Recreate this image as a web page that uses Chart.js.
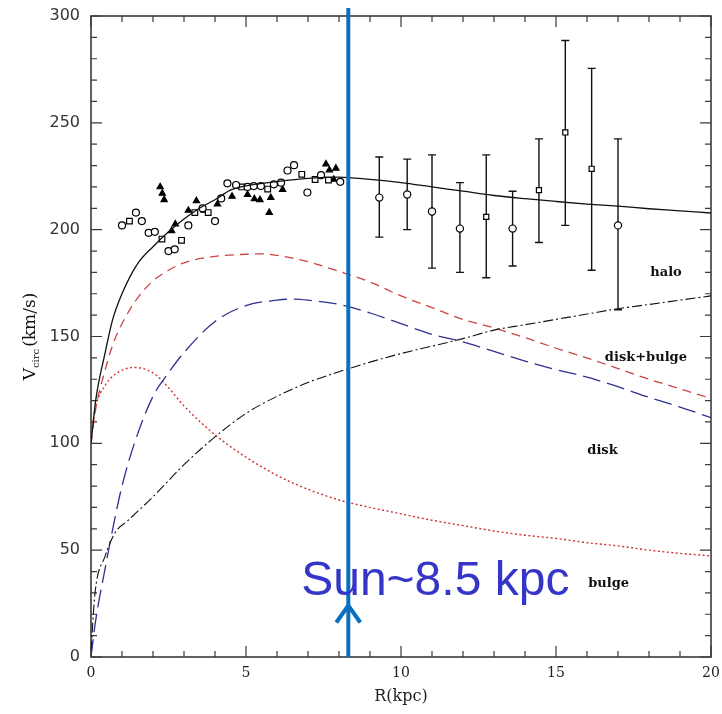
<!DOCTYPE html>
<html>
<head>
<meta charset="utf-8">
<title>Rotation curve</title>
<script src="https://cdn.jsdelivr.net/npm/chart.js@4.4.1/dist/chart.umd.min.js"></script>
<style>
  html, body { margin: 0; padding: 0; background: #fff; }
  #wrap { width: 722px; height: 714px; }
</style>
</head>
<body>
<div id="wrap"><canvas id="rotChart" width="722" height="714"></canvas></div>
<script>
// model curves, R in kpc, V in km/s
const totalR = [0, 0.15, 0.45, 0.7, 1.0, 1.5, 2, 2.5, 3, 3.5, 4, 4.5, 5, 6, 7, 8, 9, 10, 11, 12, 13, 14, 15, 16, 17, 18, 19, 20];
const totalV = [100, 120, 142, 158, 170, 184, 192, 199, 205, 210, 214, 218.5, 220.5, 222.5, 224, 224.6, 223.5, 222, 220, 218, 216, 214.5, 213.2, 212, 211, 209.8, 208.8, 207.8];

const haloR = [0, 0.13, 0.45, 0.77, 1.2, 2, 3, 4, 5, 6, 7, 8, 9, 10, 11, 12, 13, 14, 15, 16, 17, 18, 19, 20];
const haloV = [3, 30, 47, 58, 64, 75, 90, 103, 114, 122, 128.5, 133.5, 138, 142, 145.5, 149, 153, 155.5, 158, 160.5, 163, 165, 167, 169];

const diskBulgeR = [0, 0.15, 0.45, 0.7, 1.0, 1.5, 2, 2.5, 3, 4, 5, 5.5, 6, 7, 8, 9, 10, 11, 12, 13, 14, 15, 16, 17, 18, 19, 20];
const diskBulgeV = [100, 116, 134, 146, 156, 168, 176, 181, 184.5, 187.5, 188.5, 188.7, 188, 185, 180.5, 175.5, 169, 163.5, 158, 154, 149.5, 144.5, 140, 135, 130, 125.5, 121];

const diskR = [0, 0.15, 0.45, 0.8, 1.0, 1.4, 2, 2.5, 3, 4, 5, 6, 6.5, 7, 8, 9, 10, 11, 12, 13, 14, 15, 16, 17, 18, 19, 20];
const diskV = [0, 17, 41, 67, 80, 100, 122, 133, 142.5, 157, 164.5, 167, 167.5, 167, 165, 161, 156, 151, 147.5, 143, 138.5, 134.5, 131, 126.5, 121.5, 117, 112];

const bulgeR = [0, 0.15, 0.45, 0.85, 1.4, 2, 2.5, 3, 4, 5, 6, 7, 8, 9, 10, 11, 12, 13, 14, 15, 16, 17, 18, 19, 20];
const bulgeV = [103, 117, 127, 133, 135.5, 133, 126, 117.5, 104, 93.5, 85, 78.5, 73.5, 70, 67, 64, 61.5, 59, 57, 55.5, 53.5, 52, 50, 48.5, 47.3];

// inner observations (no error bars)
const ringR = [1.0, 1.45, 1.64, 1.86, 2.06, 2.5, 2.7, 3.14, 3.6, 4.0, 4.2, 4.4, 4.68, 5.05, 5.25, 5.48, 5.9, 6.13, 6.34, 6.55, 6.98, 7.42, 8.04];
const ringV = [202, 208, 204, 198.5, 199, 190, 190.8, 202, 210, 204, 214.6, 221.7, 220.9, 220, 220.4, 220.4, 221.2, 222, 227.7, 230.2, 217.4, 225.5, 222.4];
const squareR = [1.24, 2.29, 2.92, 3.35, 3.78, 4.86, 5.7, 6.8, 7.23, 7.66];
const squareV = [204, 195.6, 195, 208, 208, 220, 219, 225.9, 223.5, 223.2];
const triR = [2.23, 2.3, 2.36, 2.6, 2.72, 3.14, 3.4, 3.65, 4.08, 4.55, 5.05, 5.27, 5.45, 5.8, 5.75, 6.18, 7.58, 7.69, 7.9, 7.83];
const triV = [220, 217, 214, 199.5, 202.6, 209, 213.5, 209, 212, 215.6, 216.4, 214.4, 214, 215, 208, 218.8, 230.7, 227.9, 228.7, 223.5];

// outer observations with error bars
const outerR = [9.3, 10.2, 11.0, 11.9, 12.75, 13.6, 14.45, 15.3, 16.15, 17.0];
const outerV = [215, 216.5, 208.5, 200.5, 206, 200.5, 218.5, 245.5, 228.5, 202];
const outerLo = [196.5, 200, 182, 180, 177.5, 183, 194, 202, 181, 162.5];
const outerHi = [234, 233, 235, 222, 235, 218, 242.5, 288.5, 275.5, 242.5];
const outerShape = ['circle', 'circle', 'circle', 'circle', 'rect', 'circle', 'rect', 'rect', 'rect', 'circle'];

// axis ticks
const xTicks = [0, 5, 10, 15, 20];
const yTicks = [0, 50, 100, 150, 200, 250, 300];

// curve names and where they sit (R, V)
const curveNames = ['halo', 'disk+bulge', 'disk', 'bulge'];
const nameR = [18.55, 17.9, 16.5, 16.7];
const nameV = [180, 140, 96.5, 34.5];

// position of the Sun
const sunLineR = 8.3;
const sunText = 'Sun~8.5 kpc';

const toXY = (rs, vs) => rs.map((r, i) => ({ x: r, y: vs[i] }));

function curve(rs, vs, color, dash, width) {
    return {
        data: toXY(rs, vs),
        showLine: true,
        borderColor: color,
        borderWidth: width || 1.2,
        borderDash: dash,
        pointRadius: 0,
        cubicInterpolationMode: 'monotone',
        fill: false
    };
}

function markers(rs, vs, style, filled, radius) {
    return {
        data: toXY(rs, vs),
        showLine: false,
        pointStyle: style,
        pointRadius: radius,
        pointBorderColor: '#000',
        pointBackgroundColor: filled ? '#000' : '#fff',
        pointBorderWidth: 1.2
    };
}

// box with inward ticks on all four sides, plus the error bars
const frame = {
    id: 'frame',
    beforeDatasetsDraw(chart) {
        const { ctx, chartArea: a, scales: { x, y } } = chart;
        ctx.save();
        ctx.strokeStyle = '#3a3a3a';
        ctx.lineWidth = 1.6;
        ctx.strokeRect(a.left, a.top, a.right - a.left, a.bottom - a.top);
        ctx.lineWidth = 1.2;
        ctx.beginPath();
        for (let r = 0; r <= 20; r++) {
            const px = x.getPixelForValue(r);
            const len = r % 5 === 0 ? 11 : 6;
            ctx.moveTo(px, a.bottom); ctx.lineTo(px, a.bottom - len);
            ctx.moveTo(px, a.top); ctx.lineTo(px, a.top + len);
        }
        for (let v = 0; v <= 300; v += 10) {
            const py = y.getPixelForValue(v);
            const len = v % 50 === 0 ? 11 : 6;
            ctx.moveTo(a.left, py); ctx.lineTo(a.left + len, py);
            ctx.moveTo(a.right, py); ctx.lineTo(a.right - len, py);
        }
        ctx.stroke();

        ctx.strokeStyle = '#111';
        ctx.lineWidth = 1.4;
        ctx.beginPath();
        outerR.forEach((r, i) => {
            const px = x.getPixelForValue(r);
            const top = y.getPixelForValue(outerHi[i]);
            const bot = y.getPixelForValue(outerLo[i]);
            ctx.moveTo(px, top); ctx.lineTo(px, bot);
            ctx.moveTo(px - 4, top); ctx.lineTo(px + 4, top);
            ctx.moveTo(px - 4, bot); ctx.lineTo(px + 4, bot);
        });
        ctx.stroke();
        ctx.restore();
    }
};

// curve names, y title with subscript, Sun marker
const notes = {
    id: 'notes',
    afterDraw(chart) {
        const { ctx, chartArea: a, scales: { x, y } } = chart;
        ctx.save();

        ctx.fillStyle = '#111';
        ctx.font = 'bold 13px "DejaVu Serif"';
        ctx.textAlign = 'center';
        ctx.textBaseline = 'middle';
        curveNames.forEach((n, i) => {
            ctx.fillText(n, x.getPixelForValue(nameR[i]), y.getPixelForValue(nameV[i]));
        });

        // V_circ(km/s), rotated
        ctx.save();
        ctx.translate(35, (a.top + a.bottom) / 2);
        ctx.rotate(-Math.PI / 2);
        ctx.textAlign = 'left';
        ctx.textBaseline = 'alphabetic';
        const main = '17px "DejaVu Serif"';
        const sub = '10px "DejaVu Serif"';
        ctx.font = main;
        const wV = ctx.measureText('V').width;
        const wRest = ctx.measureText('(km/s)').width;
        ctx.font = sub;
        const wSub = ctx.measureText('circ').width + 2;
        let tx = -(wV + wSub + wRest) / 2;
        ctx.font = main;
        ctx.fillText('V', tx, 0);
        tx += wV;
        ctx.font = sub;
        ctx.fillText('circ', tx, 4);
        tx += wSub;
        ctx.font = main;
        ctx.fillText('(km/s)', tx, 0);
        ctx.restore();

        // Sun line and arrow
        const sx = x.getPixelForValue(sunLineR);
        ctx.strokeStyle = '#0b6fc0';
        ctx.lineWidth = 4;
        ctx.lineCap = 'butt';
        ctx.beginPath();
        ctx.moveTo(sx, a.top - 8);
        ctx.lineTo(sx, a.bottom);
        ctx.stroke();
        const tip = y.getPixelForValue(25.5);
        ctx.lineJoin = 'miter';
        ctx.beginPath();
        ctx.moveTo(sx - 12, tip + 20);
        ctx.lineTo(sx, tip + 3);
        ctx.lineTo(sx + 12, tip + 20);
        ctx.stroke();

        ctx.fillStyle = '#3535c8';
        ctx.font = '48px "Liberation Sans"';
        ctx.textAlign = 'left';
        ctx.textBaseline = 'alphabetic';
        ctx.fillText(sunText, x.getPixelForValue(6.78), y.getPixelForValue(29));
        ctx.restore();
    }
};

new Chart(document.getElementById('rotChart'), {
    type: 'scatter',
    data: {
        datasets: [
            curve(totalR, totalV, '#111', [], 1.3),
            curve(haloR, haloV, '#111', [10, 3, 2, 3], 1.1),
            curve(diskBulgeR, diskBulgeV, '#cc4444', [9, 6], 1.3),
            curve(diskR, diskV, '#2d3190', [18, 7], 1.3),
            curve(bulgeR, bulgeV, '#d03030', [2, 2.5], 1.4),
            markers(ringR, ringV, 'circle', false, 3.5),
            markers(squareR, squareV, 'rect', false, 4),
            markers(triR, triV, 'triangle', true, 3.6),
            markers(outerR, outerV, outerShape, false, 3.6)
        ]
    },
    options: {
        responsive: false,
        animation: false,
        layout: { padding: { top: 16, right: 11, left: 0, bottom: 0 } },
        plugins: {
            legend: { display: false },
            tooltip: { enabled: false }
        },
        scales: {
            x: {
                type: 'linear',
                min: 0,
                max: 20,
                afterFit: s => {
                    s.height = 57;
                    s.paddingLeft = 0;
                    s.paddingRight = 0;
                },
                afterBuildTicks: s => { s.ticks = xTicks.map(v => ({ value: v })); },
                grid: { display: false, drawTicks: false },
                border: { display: false },
                ticks: {
                    padding: 8,
                    color: '#222',
                    maxRotation: 0,
                    font: { family: 'DejaVu Serif', size: 14 }
                },
                title: {
                    display: true,
                    text: 'R(kpc)',
                    color: '#222',
                    font: { family: 'DejaVu Serif', size: 16 },
                    padding: { top: 0, bottom: 8 }
                }
            },
            y: {
                type: 'linear',
                min: 0,
                max: 300,
                afterFit: s => {
                    s.width = 91;
                    s.paddingTop = 0;
                    s.paddingBottom = 0;
                },
                afterBuildTicks: s => { s.ticks = yTicks.map(v => ({ value: v })); },
                grid: { display: false, drawTicks: false },
                border: { display: false },
                ticks: {
                    padding: 11,
                    color: '#333',
                    font: { family: 'DejaVu Sans', size: 16 }
                }
            }
        }
    },
    plugins: [frame, notes]
});
</script>
</body>
</html>
